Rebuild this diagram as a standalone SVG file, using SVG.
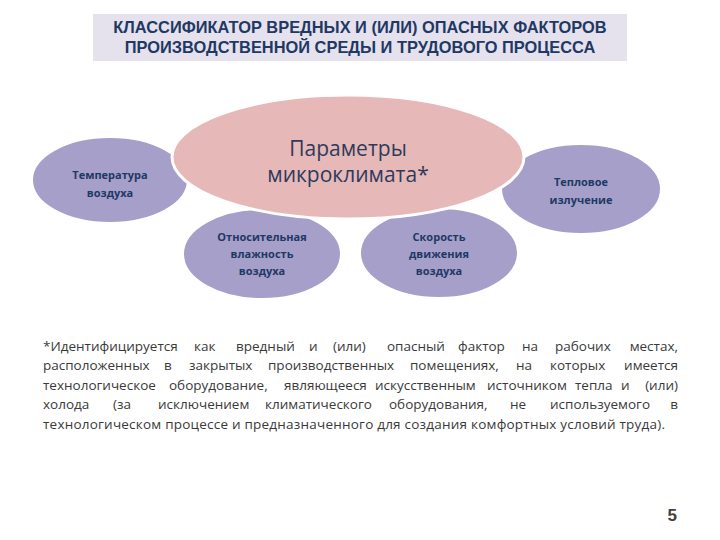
<svg xmlns="http://www.w3.org/2000/svg" width="720" height="540" viewBox="0 0 720 540">
<style>
.title{font-family:"Liberation Sans",Arial,sans-serif;font-weight:bold;font-size:16.4px;fill:#1f3864;text-anchor:middle}
.node{fill:#a59fca;stroke:#ffffff;stroke-width:2}
.main{fill:#e6b8b7;stroke:#ffffff;stroke-width:3}
.lbl{font-family:"Open Sans","DejaVu Sans",sans-serif;font-weight:bold;font-size:11px;fill:#1f3864;text-anchor:middle}
.mainlbl{font-family:"Open Sans","DejaVu Sans",sans-serif;font-size:21px;fill:#2e3a5c;text-anchor:middle}
.note{font-family:"Open Sans","DejaVu Sans",sans-serif;font-size:13.5px;fill:#3a3a3a}
.end{text-anchor:end}
.pg{font-family:"Liberation Sans",Arial,sans-serif;font-weight:bold;font-size:17px;fill:#404040;text-anchor:end}
</style>
<rect x="0" y="0" width="720" height="540" fill="#ffffff"/>
<g id="title">
<rect x="93" y="14" width="534" height="47" fill="#e5e2ed"/>
<text class="title" x="360" y="33">КЛАССИФИКАТОР ВРЕДНЫХ И (ИЛИ) ОПАСНЫХ ФАКТОРОВ</text>
<text class="title" x="360" y="53">ПРОИЗВОДСТВЕННОЙ СРЕДЫ И ТРУДОВОГО ПРОЦЕССА</text>
</g>
<g id="connectors"></g>
<g id="n-temp">
<ellipse class="node" cx="110" cy="180" rx="78" ry="43"/>
<text class="lbl" x="110" y="179">Температура</text>
<text class="lbl" x="110" y="197">воздуха</text>
</g>
<g id="n-humidity">
<ellipse class="node" cx="262" cy="254" rx="79" ry="45"/>
<text class="lbl" x="262" y="241">Относительная</text>
<text class="lbl" x="262" y="258">влажность</text>
<text class="lbl" x="262" y="275">воздуха</text>
</g>
<g id="n-speed">
<ellipse class="node" cx="439" cy="253" rx="79" ry="45"/>
<text class="lbl" x="439" y="241">Скорость</text>
<text class="lbl" x="439" y="258">движения</text>
<text class="lbl" x="439" y="275">воздуха</text>
</g>
<g id="n-heat">
<ellipse class="node" cx="581" cy="189" rx="80" ry="45"/>
<text class="lbl" x="581" y="186">Тепловое</text>
<text class="lbl" x="581" y="204">излучение</text>
</g>
<g id="n-main">
<ellipse class="main" cx="348" cy="157" rx="176" ry="62"/>
<text class="mainlbl" x="348" y="156">Параметры</text>
<text class="mainlbl" x="348" y="182">микроклимата*</text>
</g>
<g id="footnote">
<text class="note" y="351"><tspan x="43">*Идентифицируется</tspan><tspan x="194">как</tspan><tspan x="236">вредный</tspan><tspan x="309">и</tspan><tspan x="333">(или)</tspan><tspan x="387">опасный</tspan><tspan x="458">фактор</tspan><tspan x="522">на</tspan><tspan x="555">рабочих</tspan></text>
<text class="note end" x="678" y="351">местах,</text>
<text class="note" y="370"><tspan x="43">расположенных</tspan><tspan x="164">в</tspan><tspan x="189">закрытых</tspan><tspan x="268">производственных</tspan><tspan x="410">помещениях,</tspan><tspan x="516">на</tspan><tspan x="550">которых</tspan></text>
<text class="note end" x="678" y="370">имеется</text>
<text class="note" y="390"><tspan x="43">технологическое</tspan><tspan x="169">оборудование,</tspan><tspan x="284">являющееся</tspan><tspan x="375">искусственным</tspan><tspan x="487">источником</tspan><tspan x="575">тепла</tspan><tspan x="621">и</tspan></text>
<text class="note end" x="678" y="390">(или)</text>
<text class="note" y="409"><tspan x="43">холода</tspan><tspan x="113">(за</tspan><tspan x="158">исключением</tspan><tspan x="265">климатического</tspan><tspan x="389">оборудования,</tspan><tspan x="510">не</tspan><tspan x="550">используемого</tspan></text>
<text class="note end" x="678" y="409">в</text>
<text class="note" x="43" y="429" textLength="622" lengthAdjust="spacing">технологическом процессе и предназначенного для создания комфортных условий труда).</text>
</g>
<g id="page">
<text class="pg" x="677" y="521">5</text>
</g>
</svg>
